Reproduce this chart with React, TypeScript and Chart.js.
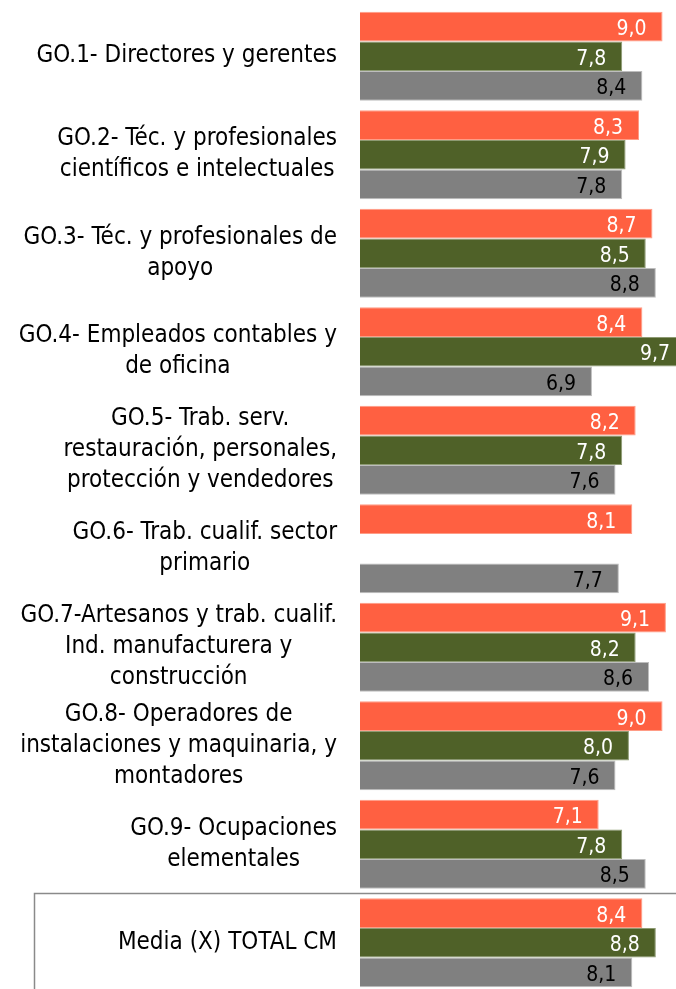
import React, { useEffect, useRef } from 'react';
import { Chart, registerables } from 'chart.js';

Chart.register(...registerables);

const categories: string[][] = [
  ['GO.1- Directores y gerentes'],
  ['GO.2- Téc. y profesionales', 'científicos e intelectuales'],
  ['GO.3- Téc. y profesionales de', 'apoyo'],
  ['GO.4- Empleados contables y', 'de oficina'],
  ['GO.5- Trab. serv.', 'restauración, personales,', 'protección y vendedores'],
  ['GO.6- Trab. cualif. sector', 'primario'],
  ['GO.7-Artesanos y trab. cualif.', 'Ind. manufacturera y', 'construcción'],
  ['GO.8- Operadores de', 'instalaciones y maquinaria, y', 'montadores'],
  ['GO.9- Ocupaciones', 'elementales'],
  ['Media (X) TOTAL CM'],
];

const seriesOrange: (number | null)[] = [9.0, 8.3, 8.7, 8.4, 8.2, 8.1, 9.1, 9.0, 7.1, 8.4];
const seriesGreen: (number | null)[] = [7.8, 7.9, 8.5, 9.7, 7.8, null, 8.2, 8.0, 7.8, 8.8];
const seriesGray: (number | null)[] = [8.4, 7.8, 8.8, 6.9, 7.6, 7.7, 8.6, 7.6, 8.5, 8.1];

const X_MIN = 0;
const X_MAX = 9.4;

const FONT = '"DejaVu Sans Condensed", "DejaVu Sans", sans-serif';
const CANVAS_W = 676;
const CANVAS_H = 995;

const fmt = (v: number) => v.toFixed(1).replace('.', ',');

const customPlugin = {
  id: 'customDraw',
  beforeDatasetsDraw(chart: any) {
    const ctx = chart.ctx;
    const yScale = chart.scales.y;
    const band = yScale.getPixelForValue(1) - yScale.getPixelForValue(0);
    const last = categories.length - 1;
    const top = yScale.getPixelForValue(last) - band / 2;
    ctx.save();
    ctx.strokeStyle = '#8a8a8a';
    ctx.lineWidth = 1.5;
    ctx.strokeRect(34.5, top, chart.width + 20, 300);
    ctx.restore();
  },
  afterDatasetsDraw(chart: any) {
    const ctx = chart.ctx;
    ctx.save();
    // value labels
    ctx.font = `21px ${FONT}`;
    ctx.textAlign = 'right';
    ctx.textBaseline = 'middle';
    chart.data.datasets.forEach((ds: any, di: number) => {
      const meta = chart.getDatasetMeta(di);
      meta.data.forEach((el: any, i: number) => {
        const v = ds.data[i];
        if (v === null || v === undefined) return;
        ctx.fillStyle = ds.labelColor;
        ctx.fillText(fmt(v), el.x - 16, el.y + 3);
      });
    });
    // category labels
    const yScale = chart.scales.y;
    const right = chart.chartArea.left - 23;
    ctx.font = `24px ${FONT}`;
    ctx.fillStyle = '#000';
    ctx.textAlign = 'center';
    const lineH = 31;
    categories.forEach((lines, i) => {
      const yc = yScale.getPixelForValue(i);
      const w = Math.max(...lines.map((l) => ctx.measureText(l).width));
      const cx = right - w / 2;
      lines.forEach((l, j) => {
        ctx.fillText(l, cx, yc + (j - (lines.length - 1) / 2) * lineH);
      });
    });
    ctx.restore();
  },
};

export default function App() {
  const ref = useRef<HTMLCanvasElement>(null);
  useEffect(() => {
    if (!ref.current) return;
    const chart = new Chart(ref.current, {
      type: 'bar',
      data: {
        labels: categories.map((c) => c.join(' ')),
        datasets: [
          {
            label: 'Serie 1',
            data: seriesOrange,
            backgroundColor: '#ff6041',
            borderColor: '#ff9c86',
            borderWidth: 1,
            labelColor: '#ffffff',
          } as any,
          {
            label: 'Serie 2',
            data: seriesGreen,
            backgroundColor: '#4f6128',
            borderColor: '#8d9a72',
            borderWidth: 1,
            labelColor: '#ffffff',
          } as any,
          {
            label: 'Serie 3',
            data: seriesGray,
            backgroundColor: '#808080',
            borderColor: '#bdbdbd',
            borderWidth: 1,
            labelColor: '#000000',
          } as any,
        ],
      },
      options: {
        indexAxis: 'y',
        responsive: false,
        animation: false,
        layout: { padding: { left: 360, top: 7, right: 0, bottom: CANVAS_H - 992 } },
        datasets: { bar: { categoryPercentage: 0.904, barPercentage: 1 } },
        scales: {
          x: { display: false, min: X_MIN, max: X_MAX },
          y: { display: false },
        },
        plugins: {
          legend: { display: false },
          tooltip: { enabled: false },
        },
      },
      plugins: [customPlugin],
    });
    return () => chart.destroy();
  }, []);
  return (
    <div style={{ position: 'absolute', left: 0, top: 0 }}>
      <canvas ref={ref} width={CANVAS_W} height={CANVAS_H} style={{ display: 'block' }} />
    </div>
  );
}
